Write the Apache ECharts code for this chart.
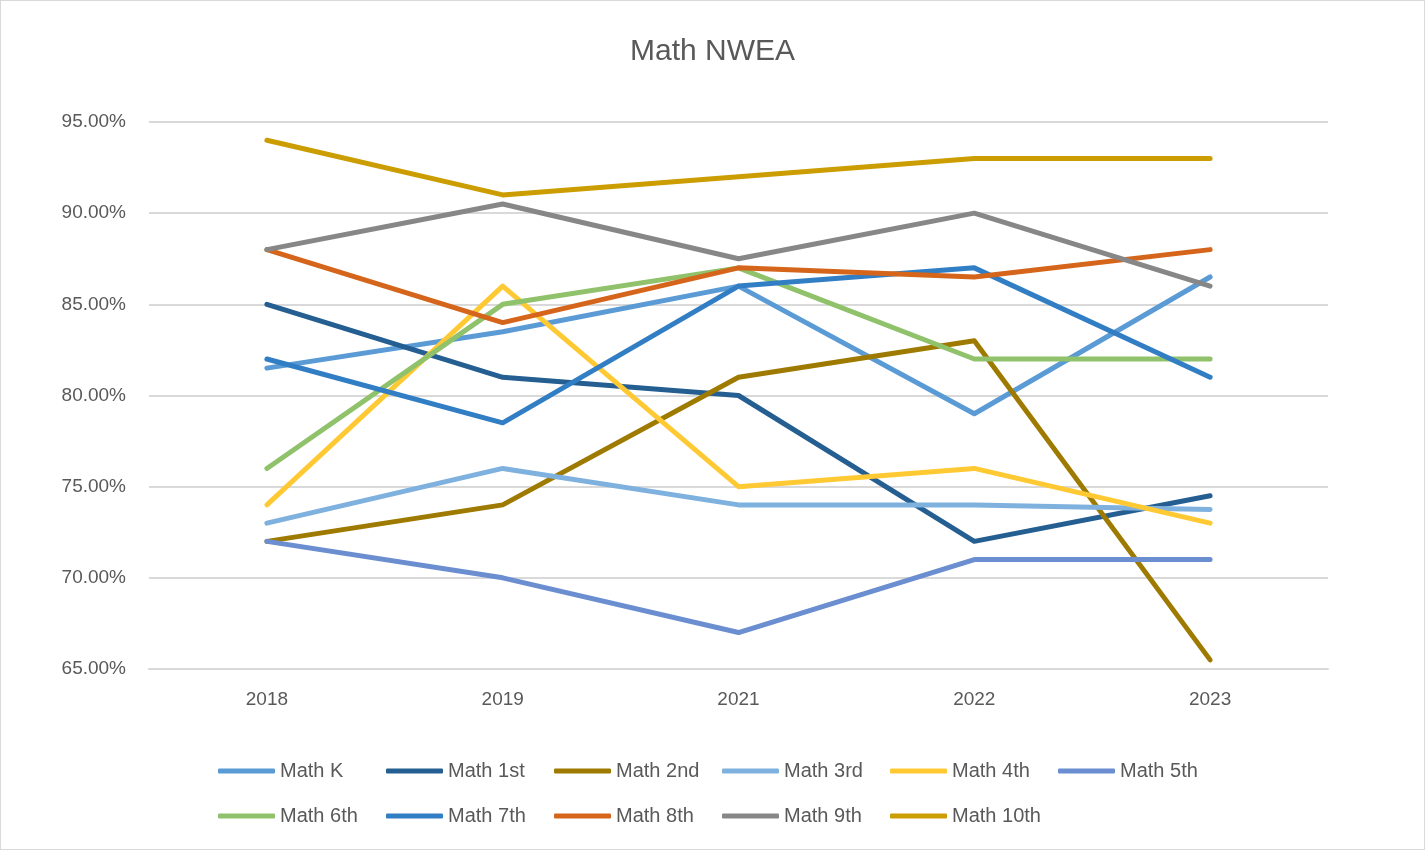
<!DOCTYPE html>
<html>
<head>
<meta charset="utf-8">
<script src="https://cdn.jsdelivr.net/npm/echarts@6/dist/echarts.min.js"></script>
<style>
html,body{margin:0;padding:0;background:#fff;}
#chart{width:1423px;height:848px;border:1px solid #d9d9d9;}
</style>
</head>
<body>
<div id="chart"></div>
<script>
const categories = ['2018', '2019', '2021', '2022', '2023'];
const seriesNames = ['Math K', 'Math 1st', 'Math 2nd', 'Math 3rd', 'Math 4th', 'Math 5th',
                     'Math 6th', 'Math 7th', 'Math 8th', 'Math 9th', 'Math 10th'];
const mathK    = [81.5, 83.5, 86, 79, 86.5];
const math1st  = [85, 81, 80, 72, 74.5];
const math2nd  = [72, 74, 81, 83, 65.5];
const math3rd  = [73, 76, 74, 74, 73.75];
const math4th  = [74, 86, 75, 76, 73];
const math5th  = [72, 70, 67, 71, 71];
const math6th  = [76, 85, 87, 82, 82];
const math7th  = [82, 78.5, 86, 87, 81];
const math8th  = [88, 84, 87, 86.5, 88];
const math9th  = [88, 90.5, 87.5, 90, 86];
const math10th = [94, 91, 92, 93, 93];
const seriesValues = [mathK, math1st, math2nd, math3rd, math4th, math5th,
                      math6th, math7th, math8th, math9th, math10th];
const colors = ['#5b9bd5', '#255e91', '#9e7b00', '#7fb1df', '#ffc934', '#6a8ecf',
                '#8fc26a', '#317ec4', '#d5651b', '#878787', '#cc9d00'];

const font = 'Liberation Sans, Arial, sans-serif';
const chart = echarts.init(document.getElementById('chart'));

const legends = seriesNames.map((name, i) => ({
  orient: 'horizontal',
  icon: 'roundRect',
  itemWidth: 57,
  itemHeight: 5,
  padding: 0,
  left: 217 + (i % 6) * 168,
  top: 760 + Math.floor(i / 6) * 45,
  data: [name],
  textStyle: { fontFamily: font, fontSize: 20, color: '#595959' }
}));

chart.setOption({
  animation: false,
  color: colors,
  title: {
    text: 'Math NWEA',
    left: 'center',
    top: 31,
    textStyle: { fontFamily: font, fontSize: 30, fontWeight: 'normal', color: '#595959' }
  },
  legend: legends,
  grid: { left: 148, right: 96, top: 121, bottom: 180, containLabel: false },
  xAxis: {
    type: 'category',
    data: categories,
    boundaryGap: true,
    axisLine: { lineStyle: { color: '#d9d9d9', width: 2 } },
    axisTick: { show: false },
    axisLabel: { fontFamily: font, fontSize: 19, color: '#595959', margin: 21 }
  },
  yAxis: {
    type: 'value',
    min: 65, max: 95, interval: 5,
    axisLine: { show: false },
    axisTick: { show: false },
    splitLine: { lineStyle: { color: '#d9d9d9', width: 2 } },
    axisLabel: {
      fontFamily: font, fontSize: 19, color: '#595959', margin: 23,
      formatter: v => v.toFixed(2) + '%'
    }
  },
  series: seriesNames.map((name, i) => ({
    name: name,
    type: 'line',
    data: seriesValues[i],
    showSymbol: false,
    symbol: 'none',
    lineStyle: { width: 5, color: colors[i], cap: 'round', join: 'round' },
    itemStyle: { color: colors[i] }
  }))
});
</script>
</body>
</html>
